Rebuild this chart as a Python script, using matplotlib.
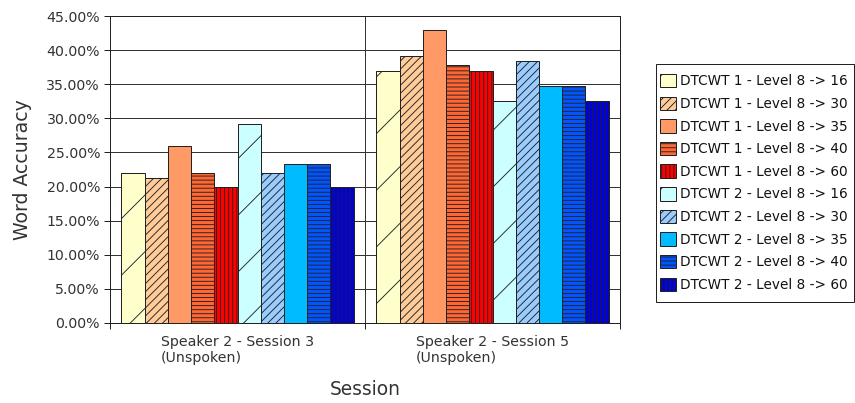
import matplotlib
matplotlib.use("Agg")
import matplotlib.pyplot as plt
from matplotlib.patches import Rectangle
from matplotlib.ticker import FuncFormatter, FixedLocator
import numpy as np

# Data (word accuracy, %)
sessions = ["Speaker 2 - Session 3\n(Unspoken)", "Speaker 2 - Session 5\n(Unspoken)"]
series_names = [
    "DTCWT 1 - Level 8 -> 16",
    "DTCWT 1 - Level 8 -> 30",
    "DTCWT 1 - Level 8 -> 35",
    "DTCWT 1 - Level 8 -> 40",
    "DTCWT 1 - Level 8 -> 60",
    "DTCWT 2 - Level 8 -> 16",
    "DTCWT 2 - Level 8 -> 30",
    "DTCWT 2 - Level 8 -> 35",
    "DTCWT 2 - Level 8 -> 40",
    "DTCWT 2 - Level 8 -> 60",
]
session3 = [22.0, 21.3, 26.0, 22.0, 20.0, 29.2, 22.0, 23.3, 23.3, 20.0]
session5 = [36.9, 39.2, 42.9, 37.8, 36.9, 32.5, 38.4, 34.8, 34.8, 32.5]

# Styles
colors = ["#FFFFCC", "#FFCC99", "#FF9966", "#FF6633", "#FF0000",
          "#CCFFFF", "#99CCFF", "#00BBFF", "#0055FF", "#0000DD"]
hatches = ["/", "///////", "", "-------", "|||||||",
           "/", "///////", "", "-------", "|||||||"]

DPI = 170
W, H = 855, 403
px = 72.0 / DPI  # one pixel in points

plt.rcParams["font.family"] = ["DejaVu Sans"]
plt.rcParams["hatch.linewidth"] = 0.9 * px

fig = plt.figure(figsize=(W / DPI, H / DPI), dpi=DPI)
ax = fig.add_axes([110 / W, 1 - 323 / H, 510 / W, 307 / H])

values = np.array([session3, session5])  # shape (sessions, series)
x = np.arange(len(sessions))
n = len(series_names)
group_w = 0.91
w = group_w / n

handles = []
for i in range(n):
    offs = (i - (n - 1) / 2) * w
    b = ax.bar(x + offs, values[:, i], width=w, color=colors[i],
               edgecolor="#222222", linewidth=1.0 * px, hatch=hatches[i],
               label=series_names[i], zorder=3)
    handles.append(b)

ax.set_xlim(-0.5, len(sessions) - 0.5)
ax.set_ylim(0, 45)
ax.yaxis.set_major_locator(FixedLocator(np.arange(0, 45.01, 5)))
ax.yaxis.set_major_formatter(FuncFormatter(lambda v, p: f"{v:.2f}%"))

ax.set_xticks(x)
ax.set_xticklabels(sessions, multialignment="left")
ax.set_xticks(np.arange(-0.5, len(sessions), 1.0), minor=True)

ax.tick_params(axis="x", which="major", length=0, pad=12 * px,
               labelsize=6.0, labelcolor="#333333")
ax.tick_params(axis="x", which="minor", length=6 * px, width=1.0 * px,
               direction="out", color="#222222")
ax.tick_params(axis="y", which="major", length=6 * px, width=1.0 * px,
               direction="out", pad=4 * px, labelsize=6.0,
               labelcolor="#333333", color="#222222")

ax.grid(axis="y", which="major", color="#333333", linewidth=1.0 * px, zorder=1)
ax.grid(axis="x", which="minor", color="#333333", linewidth=1.0 * px, zorder=1)
ax.set_axisbelow(True)

for sp in ax.spines.values():
    sp.set_linewidth(1.0 * px)
    sp.set_color("#222222")

ax.set_ylabel("Word Accuracy", fontsize=8.0, color="#333333", labelpad=14 * px)
ax.set_xlabel("Session", fontsize=7.9, color="#333333", labelpad=15 * px)

# Legend entries, with a separately drawn rectangular frame
leg = fig.legend(handles=handles, loc="upper left",
                 bbox_to_anchor=(660 / W, 1 - 74 / H),
                 bbox_transform=fig.transFigure, borderaxespad=0,
                 fontsize=5.75, frameon=False, borderpad=0,
                 handlelength=1.15, handleheight=1.15, handletextpad=0.35,
                 labelspacing=0.61)
for t in leg.get_texts():
    t.set_color("#111111")

fig.patches.append(Rectangle((656 / W, 1 - 302 / H), 198 / W, 238 / H,
                             transform=fig.transFigure, fill=False,
                             edgecolor="#222222", linewidth=1.0 * px))

fig.savefig("out.png", dpi=DPI)
